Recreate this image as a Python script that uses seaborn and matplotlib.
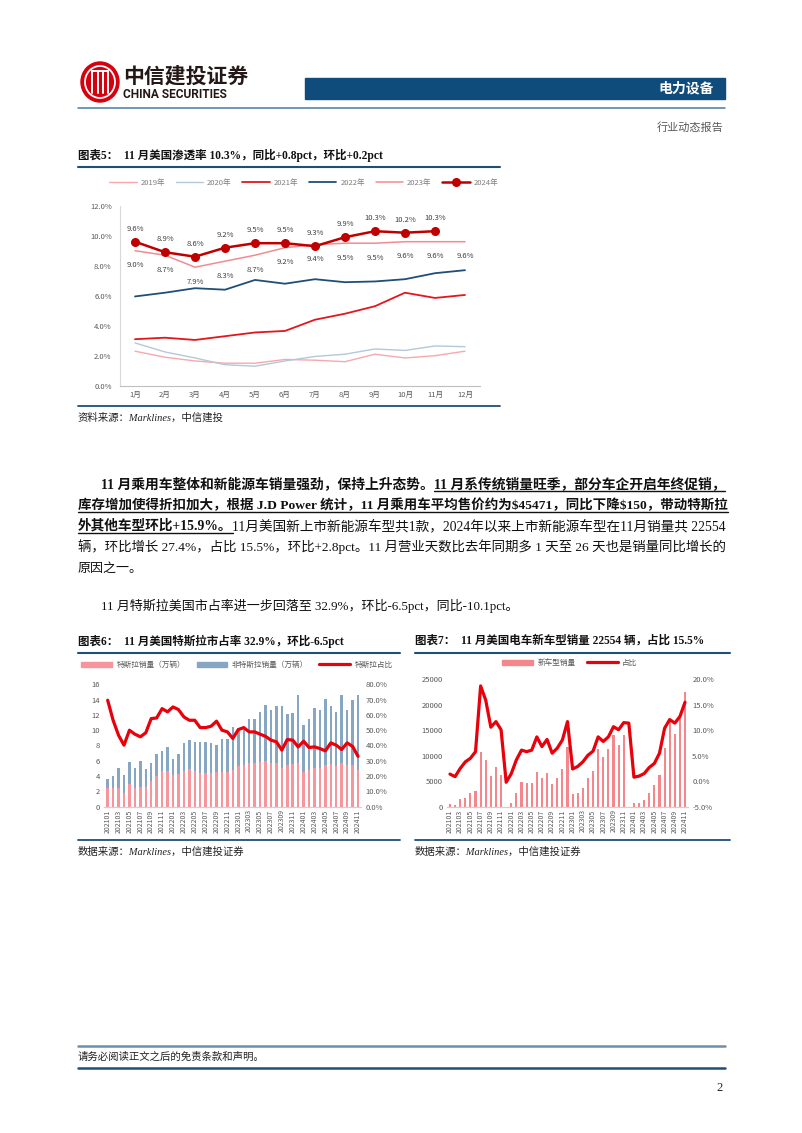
import numpy as np
import matplotlib.pyplot as plt
import matplotlib.patches as mpatches
from matplotlib.lines import Line2D
from matplotlib.ticker import FuncFormatter
import seaborn as sns

sns.set_theme(style="white")
plt.rcParams['font.family'] = ['Noto Sans CJK SC', 'DejaVu Sans']
plt.rcParams['axes.unicode_minus'] = False

W, H = 802, 1133
SERIF = ['Liberation Serif', 'Noto Sans CJK SC', 'DejaVu Sans']

# ---------------- data: chart 5, US NEV penetration (%) ----------------
months = ['1月', '2月', '3月', '4月', '5月', '6月', '7月', '8月', '9月', '10月', '11月', '12月']
pen_2019 = [2.3, 1.9, 1.65, 1.5, 1.5, 1.75, 1.7, 1.6, 2.1, 1.85, 2.0, 2.3]
pen_2020 = [2.85, 2.25, 1.85, 1.4, 1.3, 1.65, 1.95, 2.1, 2.45, 2.35, 2.65, 2.6]
pen_2021 = [3.1, 3.2, 3.05, 3.3, 3.55, 3.65, 4.4, 4.8, 5.3, 6.2, 5.85, 6.05]
pen_2022 = [5.95, 6.2, 6.5, 6.4, 7.05, 6.8, 7.1, 6.9, 6.95, 7.1, 7.5, 7.7]
pen_2023 = [9.0, 8.7, 7.9, 8.3, 8.7, 9.2, 9.4, 9.5, 9.5, 9.6, 9.6, 9.6]
pen_2024 = [9.6, 8.9, 8.6, 9.2, 9.5, 9.5, 9.3, 9.9, 10.3, 10.2, 10.3]

# ---------------- data: charts 6 & 7, monthly 202101-202411 ----------------
ym_labels = [f"{y}{m:02d}" for y in (2021, 2022, 2023, 2024) for m in range(1, 13)][:47]

tesla_sales = [2.5, 2.4, 2.4, 1.8, 2.95, 2.5, 2.6, 2.6, 3.35, 4.0, 4.7, 4.7,
               4.1, 4.25, 4.7, 4.87, 4.7, 4.35, 4.35, 4.35, 4.57, 4.57, 4.5, 4.8,
               5.35, 5.4, 5.65, 5.7, 5.85, 6.0, 5.65, 5.65, 5.1, 5.5, 5.55, 5.65,
               4.55, 4.85, 5.0, 5.1, 5.4, 5.55, 5.3, 5.65, 5.4, 5.5, 4.85]
other_sales = [1.07, 1.6, 2.6, 2.4, 2.85, 2.54, 3.36, 2.27, 2.39, 2.87, 2.56, 3.04,
               2.1, 2.62, 3.6, 3.83, 3.73, 4.08, 4.08, 4.0, 3.47, 4.26, 4.4, 5.6,
               4.95, 4.7, 5.75, 5.8, 6.5, 7.3, 7.05, 7.55, 8.1, 6.6, 6.65, 9.0,
               6.1, 6.65, 7.9, 7.6, 8.7, 7.65, 7.05, 8.95, 7.2, 8.4, 9.8]
tesla_share = [69.6, 56.5, 46.7, 40.2, 50.0, 47.4, 45.7, 48.3, 57.6, 58.0, 64.1, 62.0,
               65.2, 63.5, 58.7, 56.5, 56.5, 51.7, 51.7, 52.6, 55.9, 50.0, 48.9, 44.6,
               50.4, 51.7, 48.9, 48.9, 47.4, 46.0, 43.5, 42.4, 37.0, 43.9, 43.5, 39.1,
               42.8, 38.7, 39.1, 38.0, 36.5, 41.7, 40.2, 37.4, 41.7, 39.4, 32.9]

new_model_sales = [460, 400, 1440, 1700, 2620, 3010, 10800, 9160, 6020, 7790, 6150, 0,
                   790, 2750, 4780, 4580, 4580, 6740, 5560, 6540, 4380, 5560, 7330, 11650,
                   2490, 2620, 3600, 5560, 7000, 11300, 9700, 11300, 14070, 12100, 14070, 0,
                   790, 790, 1300, 2750, 4250, 6150, 11450, 17150, 14270, 17700, 22554]
new_model_share = [1.4, 0.9, 2.5, 3.8, 4.5, 5.8, 18.7, 15.9, 10.6, 11.7, 10.1, -0.2,
                   1.5, 4.2, 6.1, 5.8, 6.1, 8.7, 6.8, 8.2, 5.5, 6.5, 8.1, 11.7,
                   2.4, 2.9, 3.8, 5.1, 5.9, 8.7, 7.8, 8.7, 10.7, 10.1, 11.5, 11.4,
                   0.8, 1.0, 1.5, 2.7, 3.5, 5.5, 10.4, 12.1, 11.4, 12.7, 15.5]

TICK = '#595959'
DARK_BLUE = '#1f4e79'

fig = plt.figure(figsize=(W / 100, H / 100), dpi=100)
page = fig.add_axes([0, 0, 1, 1])
page.set_xlim(0, W)
page.set_ylim(H, 0)
page.axis('off')


def rect(l, t, r, b):
    return [l / W, 1 - b / H, (r - l) / W, (b - t) / H]


# ---------------- header ----------------
page.add_patch(mpatches.Ellipse((100, 82), 38, 40, color='#d7000f', zorder=2))
page.add_patch(mpatches.Ellipse((100, 82), 30, 32, fill=False, ec='white', lw=1.3, zorder=3))
for dx in (-8, -2.5, 2.5, 8):
    page.plot([100 + dx, 100 + dx], [71, 93], color='white', lw=1.4, zorder=3)
page.plot([92, 108], [71, 71], color='white', lw=1.4, zorder=3)
page.text(123, 76, "中信建投证券", fontsize=15, fontweight='bold', color='#231815', va='center')
page.text(123, 94, "CHINA SECURITIES", fontsize=8.6, fontweight='bold', color='#231815',
          va='center', family=['Roboto', 'DejaVu Sans'])
page.add_patch(mpatches.Rectangle((305, 78), 420, 21, color='#0f4c7c'))
page.text(714, 88.5, "电力设备", fontsize=10, fontweight='bold', color='white', ha='right', va='center')
page.plot([78, 725], [108, 108], color='#4a7aa3', lw=1.1)
page.text(723, 127, "行业动态报告", fontsize=8, color=TICK, ha='right', va='center')


def title_block(x, y, x_end, txt):
    page.text(x, y, txt, fontsize=8.3, fontweight='bold', family=SERIF, va='center', color='#111111')
    page.plot([x, x_end], [y + 12, y + 12], color=DARK_BLUE, lw=1.5)


def source_block(x, y, x_end, txt):
    page.plot([x, x_end], [y - 12, y - 12], color=DARK_BLUE, lw=1.3)
    page.text(x, y, txt, fontsize=7.5, style='italic', family=SERIF, va='center', color='#222222')


# ---------------- chart 5 ----------------
title_block(78, 155, 500, "图表5：  11 月美国渗透率 10.3%，同比+0.8pct，环比+0.2pct")
ax5 = fig.add_axes(rect(120, 205.7, 480, 385.7))
ax5.patch.set_alpha(0)
series5 = [('2019年', pen_2019, '#f7a8ad', 1.0),
           ('2020年', pen_2020, '#b3c8d8', 1.0),
           ('2021年', pen_2021, '#e3161d', 1.3),
           ('2022年', pen_2022, '#1f4e79', 1.3),
           ('2023年', pen_2023, '#f28b91', 1.1)]
for name, vals, col, lw in series5:
    sns.lineplot(x=np.arange(len(vals)), y=vals, ax=ax5, color=col, linewidth=lw, label=name)
sns.lineplot(x=np.arange(len(pen_2024)), y=pen_2024, ax=ax5, color='#c00000', linewidth=1.8,
             marker='o', markersize=6.5, markeredgewidth=0, label='2024年')
for i, v in enumerate(pen_2024):
    ax5.annotate(f"{v}%", (i, v), xytext=(0, 9.5), textcoords='offset points',
                 ha='center', va='center', fontsize=5.5, color='#404040')
for i, v in enumerate(pen_2023):
    ax5.annotate(f"{v}%", (i, v), xytext=(0, -10.5), textcoords='offset points',
                 ha='center', va='center', fontsize=5.5, color='#404040')
ax5.set_xlim(-0.5, 11.5)
ax5.set_ylim(0, 12)
ax5.set_yticks(range(0, 13, 2))
ax5.yaxis.set_major_formatter(FuncFormatter(lambda v, p: f"{v:.1f}%"))
ax5.set_xticks(range(12))
ax5.set_xticklabels(months)
ax5.tick_params(length=0, labelsize=5.5, colors=TICK)
ax5.tick_params(axis='y', pad=6)
ax5.tick_params(axis='x', pad=4)
for s in ('top', 'right'):
    ax5.spines[s].set_visible(False)
ax5.spines['left'].set_color('#d9d9d9')
ax5.spines['bottom'].set_color('#bfbfbf')
ax5.spines['left'].set_linewidth(0.8)
ax5.spines['bottom'].set_linewidth(0.8)
ax5.set_xlabel('')
ax5.set_ylabel('')
ax5.legend(loc='center', bbox_to_anchor=(0.51, 1.126), ncol=6, frameon=False, fontsize=5.5,
           handlelength=3.6, columnspacing=1.4, handletextpad=0.5, labelcolor='#7f7f7f')
source_block(78, 418, 500, "资料来源：Marklines，中信建投")

# ---------------- body text ----------------
BODY = 9.4


def draw_segments(x, y, segs, size, draw=True):
    r = fig.canvas.get_renderer()
    made = []
    for txt, sty in segs:
        t = page.text(x, y, txt, fontsize=size, fontweight='bold' if 'b' in sty else 'normal',
                      family=SERIF, va='baseline', color='#111111')
        w = t.get_window_extent(renderer=r).width
        made.append((t, x, w, sty))
        x += w
    if not draw:
        for t, _, _, _ in made:
            t.remove()
        return x
    for t, x0, w, sty in made:
        if 'u' in sty:
            page.plot([x0, x0 + w], [y + 3, y + 3], color='#111111', lw=1.0)
    return x


body_lines = [
    (101, 488, True, [("11 月乘用车整体和新能源车销量强劲，保持上升态势。", "b"),
                      ("11 月系传统销量旺季，部分车企开启年终促销，", "bu")]),
    (78, 509, True, [(r"库存增加使得折扣加大，根据 J.D Power 统计，11 月乘用车平均售价约为\$45471，同比下降\$150，带动特斯拉", "bu")]),
    (78, 530, True, [("外其他车型环比+15.9%。", "bu"),
                     ("11月美国新上市新能源车型共1款，2024年以来上市新能源车型在11月销量共 22554", "n")]),
    (78, 551, True, [("辆，环比增长 27.4%，占比 15.5%，环比+2.8pct。11 月营业天数比去年同期多 1 天至 26 天也是销量同比增长的", "n")]),
    (78, 572, False, [("原因之一。", "n")]),
    (101, 610, False, [("11 月特斯拉美国市占率进一步回落至 32.9%，环比-6.5pct，同比-10.1pct。", "n")]),
]
for x0, y0, justify, segs in body_lines:
    size = BODY
    if justify:
        end = draw_segments(x0, y0, segs, BODY, draw=False)
        size = BODY * (725 - x0) / (end - x0)
        size = min(max(size, BODY * 0.92), BODY * 1.08)
    draw_segments(x0, y0, segs, size)

# ---------------- chart 6 ----------------
title_block(78, 641, 400, "图表6：  11 月美国特斯拉市占率 32.9%，环比-6.5pct")
C_TESLA, C_OTHER, C_LINE = '#f6959b', '#86a6c4', '#e8000b'
ax6 = fig.add_axes(rect(104.4, 684.3, 361.3, 806.7))
ax6.patch.set_alpha(0)
total6 = [t + o for t, o in zip(tesla_sales, other_sales)]
sns.barplot(x=ym_labels, y=total6, color=C_OTHER, width=0.45, saturation=1, errorbar=None,
            linewidth=0, ax=ax6)
sns.barplot(x=ym_labels, y=tesla_sales, color=C_TESLA, width=0.45, saturation=1, errorbar=None,
            linewidth=0, ax=ax6)
ax6.set_ylim(0, 16)
ax6.set_yticks(range(0, 17, 2))
ax6r = ax6.twinx()
sns.lineplot(x=np.arange(len(tesla_share)), y=tesla_share, ax=ax6r, color=C_LINE, linewidth=2.3)
ax6r.set_ylim(0, 80)
ax6r.set_yticks(range(0, 81, 10))
ax6r.yaxis.set_major_formatter(FuncFormatter(lambda v, p: f"{v:.1f}%"))
ax6.set_xlim(-0.6, 46.6)
ax6.set_xticks(range(0, 47, 2))
ax6.set_xticklabels(ym_labels[::2], rotation=90)
ax6r.legend([mpatches.Patch(color=C_TESLA), mpatches.Patch(color=C_OTHER),
             Line2D([], [], color=C_LINE, lw=2.3)],
            ['特斯拉销量（万辆）', '非特斯拉销量（万辆）', '特斯拉占比'],
            loc='center', bbox_to_anchor=(0.516, 1.158), ncol=3, frameon=False, fontsize=5.5,
            handlelength=4.0, handleheight=0.6, columnspacing=1.5, handletextpad=0.6,
            labelcolor='#595959')

# ---------------- chart 7 ----------------
title_block(415, 641, 730, "图表7：  11 月美国电车新车型销量 22554 辆，占比 15.5%")
C_NEW = '#f4868c'
ax7 = fig.add_axes(rect(446.9, 679.3, 688.1, 806.7))
ax7.patch.set_alpha(0)
sns.barplot(x=ym_labels, y=new_model_sales, color=C_NEW, width=0.4, saturation=1, errorbar=None,
            linewidth=0, ax=ax7)
ax7.set_ylim(0, 25000)
ax7.set_yticks(range(0, 25001, 5000))
ax7r = ax7.twinx()
sns.lineplot(x=np.arange(len(new_model_share)), y=new_model_share, ax=ax7r, color=C_LINE, linewidth=2.3)
ax7r.set_ylim(-5, 20)
ax7r.set_yticks(range(-5, 21, 5))
ax7r.yaxis.set_major_formatter(FuncFormatter(lambda v, p: f"{v:.1f}%"))
ax7.set_xlim(-0.6, 46.6)
ax7.set_xticks(range(0, 47, 2))
ax7.set_xticklabels(ym_labels[::2], rotation=90)
ax7r.legend([mpatches.Patch(color=C_NEW), Line2D([], [], color=C_LINE, lw=2.3)],
            ['新车型销量', '占比'],
            loc='center', bbox_to_anchor=(0.51, 1.128), ncol=2, frameon=False, fontsize=5.5,
            handlelength=4.0, handleheight=0.6, columnspacing=1.5, handletextpad=0.6,
            labelcolor='#595959')

for a in (ax6, ax6r, ax7, ax7r):
    a.set_xlabel('')
    a.set_ylabel('')
    a.tick_params(length=0, labelsize=5.5, colors=TICK, pad=3)
    for s in ('top', 'right', 'left'):
        a.spines[s].set_visible(False)
    a.spines['bottom'].set_color('#d0d0d0')
    a.spines['bottom'].set_linewidth(0.8)
    a.grid(False)
ax6.tick_params(axis='x', labelsize=5, pad=2)
ax7.tick_params(axis='x', labelsize=5, pad=2)

source_block(78, 852, 400, "数据来源：Marklines，中信建投证券")
source_block(415, 852, 730, "数据来源：Marklines，中信建投证券")

# ---------------- footer ----------------
page.plot([78, 725], [1046, 1046], color='#6f8ea8', lw=1.8)
page.text(78, 1057, "请务必阅读正文之后的免责条款和声明。", fontsize=7.5, va='center', color='#222222')
page.plot([78, 725], [1068, 1068], color=DARK_BLUE, lw=1.8)
page.text(723, 1088, "2", fontsize=9, family=SERIF, ha='right', va='center', color='#222222')

fig.savefig('out.png', dpi=100)
